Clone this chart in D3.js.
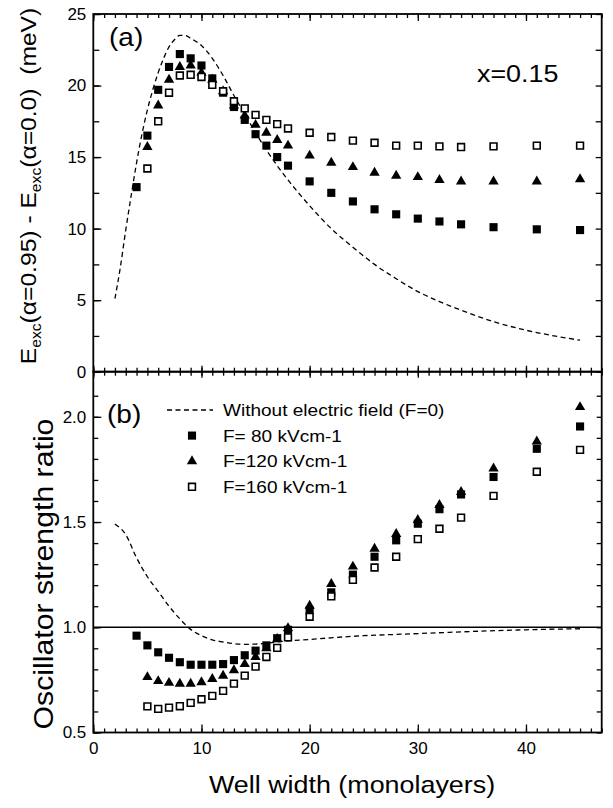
<!DOCTYPE html>
<meta charset="utf-8">
<script src="https://cdn.jsdelivr.net/npm/d3@7"></script>
<style>
body { margin: 0; background: #fff; }
text { font-family: "Liberation Sans", Arial, sans-serif; fill: #000; }
</style>
<body>
<script>
// well widths (monolayers)
var wellFull = [4,5,6,7,8,9,10,11,12,13,14,15,16,17,18,20,22,24,26,28,30,32,34,37,41,45];
var wellFrom5 = wellFull.slice(1);

// (a) energy difference, meV
var enF80  = [12.9,16.5,19.7,21.3,22.2,21.9,21.4,20.5,19.5,18.5,17.6,16.6,15.8,15.0,14.4,13.3,12.5,11.9,11.35,11.0,10.7,10.5,10.3,10.1,9.95,9.9];
var enF120 = [15.7,18.6,20.4,21.3,21.4,20.9,20.4,19.6,18.6,17.9,17.25,16.7,16.2,15.8,15.1,14.6,14.3,13.9,13.7,13.6,13.4,13.3,13.3,13.3,13.45];
var enF160 = [14.2,17.5,19.5,20.7,20.75,20.6,20.05,19.6,18.9,18.4,17.95,17.6,17.3,17.0,16.7,16.4,16.15,16.0,15.8,15.8,15.75,15.7,15.75,15.8,15.8];
var enF0x  = [2,2.5,3,3.5,4,4.5,5,5.5,6,6.5,7,7.5,8,8.5,9,10,11,12,13,14,15,16,17,18,20,22,24,26,28,30,32,34,37,40,43,45];
var enF0   = [5.1,7.3,9.9,12.3,14.6,16.6,18.3,19.7,20.9,21.9,22.7,23.2,23.5,23.5,23.3,22.8,21.9,20.7,19.3,18.0,16.7,15.5,14.4,13.4,11.6,10.0,8.7,7.5,6.5,5.6,4.9,4.3,3.5,2.9,2.45,2.2];

// (b) oscillator strength ratio
var osF80  = [0.96,0.914,0.881,0.855,0.834,0.822,0.822,0.822,0.825,0.844,0.867,0.889,0.914,0.948,0.988,1.08,1.166,1.25,1.335,1.413,1.492,1.561,1.631,1.714,1.848,1.954];
var osF120 = [0.763,0.744,0.736,0.732,0.732,0.739,0.754,0.770,0.796,0.825,0.859,0.90,0.945,0.995,1.102,1.206,1.288,1.373,1.443,1.51,1.581,1.643,1.754,1.883,2.046];
var osF160 = [0.624,0.612,0.618,0.625,0.641,0.658,0.674,0.698,0.732,0.770,0.813,0.859,0.902,0.952,1.05,1.147,1.225,1.284,1.335,1.419,1.468,1.521,1.624,1.739,1.843];
var osF0x  = [2,3,4,5,6,7,8,9,10,11,12,13,14,15,16,17,18,20,22,25,28,31,35,40,45];
var osF0   = [1.49,1.44,1.33,1.24,1.17,1.10,1.04,0.99,0.96,0.94,0.93,0.922,0.919,0.92,0.924,0.93,0.935,0.942,0.95,0.96,0.966,0.972,0.98,0.988,0.993];

var legendLabels = ["Without electric field (F=0)", "F= 80 kVcm-1", "F=120 kVcm-1", "F=160 kVcm-1"];

var W = 613, H = 808;
var SX = 1.12; // text in the scan is a bit wider than Arial

var svg = d3.select("body").append("svg").attr("width", W).attr("height", H);

var x  = d3.scaleLinear().domain([0, 47]).range([93.3, 601.7]);
var yA = d3.scaleLinear().domain([0, 25]).range([371.7, 14]);
var yB = d3.scaleLinear().domain([0.5, 2.0]).range([732.5, 395]);
yB.domain([0.5, yB.invert(371.7)]);

var left = x.range()[0], right = x.range()[1];

function zip(xs, ys) { return xs.map(function(d, i) { return [d, ys[i]]; }); }

function txt(g, px, py, str, size, rot, anchor) {
  return g.append("text")
    .attr("transform", "translate(" + px + "," + py + ")" + (rot ? " rotate(-90)" : "") + " scale(" + SX + ",1)")
    .attr("text-anchor", anchor || "start")
    .style("font-size", size + "px")
    .text(str);
}

// ticks helper: draws ticks with a d3 axis, no domain line
function ticks(axisFn, scale, vals, size, tx, ty, fmt, pad) {
  var g = svg.append("g")
    .attr("transform", "translate(" + tx + "," + ty + ")")
    .call(axisFn(scale).tickValues(vals).tickSize(size).tickPadding(pad || 3).tickFormat(fmt || ""));
  g.select(".domain").remove();
  g.selectAll(".tick line").attr("stroke", "#000").attr("stroke-width", 1.3);
  g.selectAll(".tick text").style("font-size", "17px").style("font-family", "'Liberation Sans', Arial, sans-serif");
  return g;
}

var xMinor = d3.range(0, 48);
var xMajor = [0, 10, 20, 30, 40];

// ---- panel frames
[[yA, 14, 371.7], [yB, 371.7, 732.5]].forEach(function(p) {
  svg.append("rect").attr("x", left).attr("y", p[1]).attr("width", right - left).attr("height", p[2] - p[1])
    .attr("fill", "none").attr("stroke", "#000").attr("stroke-width", 1.8);
});

// top edge (ticks down)
ticks(d3.axisTop, x, xMinor, -4, 0, 14);
ticks(d3.axisTop, x, xMajor, -7, 0, 14);
// shared middle edge (ticks both ways)
[4, -4].forEach(function(s) { ticks(d3.axisBottom, x, xMinor, s, 0, 371.7); });
[6, -6].forEach(function(s) { ticks(d3.axisBottom, x, xMajor, s, 0, 371.7); });
// bottom edge with labels
ticks(d3.axisBottom, x, xMinor, -4, 0, 732.5);
ticks(d3.axisBottom, x, xMajor, -8, 0, 732.5, d3.format("d"), 9);

// panel (a) y ticks
var aMinor = d3.range(0, 25.01, 2.5), aMajor = d3.range(0, 25.01, 5);
ticks(d3.axisLeft, yA, aMinor, -6, left, 0);
ticks(d3.axisLeft, yA, aMajor, -8, left, 0, d3.format("d"), 7);
ticks(d3.axisRight, yA, aMinor, -6, right, 0);

// panel (b) y ticks
var bMinor = d3.range(5, 22).map(function(d) { return d / 10; }), bMajor = [0.5, 1.0, 1.5, 2.0];
ticks(d3.axisLeft, yB, bMinor, -5, left, 0);
ticks(d3.axisLeft, yB, bMajor, -8, left, 0, d3.format(".1f"), 7);
ticks(d3.axisRight, yB, bMinor, -5, right, 0);

// reference line at ratio 1
svg.append("line").attr("x1", left).attr("x2", right).attr("y1", yB(1)).attr("y2", yB(1))
  .attr("stroke", "#000").attr("stroke-width", 1.3);

// ---- dashed model curves
function dashed(data, y) {
  svg.append("path").datum(data)
    .attr("d", d3.line().x(function(d) { return x(d[0]); }).y(function(d) { return y(d[1]); }).curve(d3.curveMonotoneX))
    .attr("fill", "none").attr("stroke", "#000").attr("stroke-width", 1.3).attr("stroke-dasharray", "5,3.5");
}
dashed(zip(enF0x, enF0), yA);
dashed(zip(osF0x, osF0), yB);

// ---- markers
var sqSym = d3.symbol().type(d3.symbolSquare).size(66);
var triSym = d3.symbol().type(d3.symbolTriangle).size(46);
var openSym = d3.symbol().type(d3.symbolSquare).size(46);

function marks(data, y, kind) {
  var sym = kind === "tri" ? triSym : kind === "sq" ? sqSym : openSym;
  svg.append("g").selectAll("path").data(data).enter().append("path")
    .attr("transform", function(d) { return "translate(" + x(d[0]) + "," + y(d[1]) + ")"; })
    .attr("d", sym)
    .attr("fill", kind === "open" ? "#fff" : "#000")
    .attr("stroke", "#000").attr("stroke-width", kind === "open" ? 1.6 : 0);
}
marks(zip(wellFrom5, enF120), yA, "tri");
marks(zip(wellFull, enF80), yA, "sq");
marks(zip(wellFrom5, enF160), yA, "open");
marks(zip(wellFrom5, osF120), yB, "tri");
marks(zip(wellFull, osF80), yB, "sq");
marks(zip(wellFrom5, osF160), yB, "open");

// ---- legend in (b)
var lg = svg.append("g");
legendLabels.forEach(function(lab, i) {
  var cy = 410 + i * 25.6;
  if (i === 0) {
    lg.append("line").attr("x1", 167).attr("x2", 213).attr("y1", cy).attr("y2", cy)
      .attr("stroke", "#000").attr("stroke-width", 1.3).attr("stroke-dasharray", "5,3.5");
  } else {
    lg.append("path").attr("transform", "translate(192," + cy + ")")
      .attr("d", [sqSym, triSym, openSym][i - 1])
      .attr("fill", i === 3 ? "#fff" : "#000").attr("stroke", "#000").attr("stroke-width", i === 3 ? 1.6 : 0);
  }
  txt(lg, 223, cy + 6, lab, 17);
});

// ---- labels
txt(svg, 109, 46, "(a)", 25);
txt(svg, 107, 423, "(b)", 25);
txt(svg, 477, 82, "x=0.15", 24);

txt(svg, 352, 793, "Well width (monolayers)", 24, false, "middle");
txt(svg, 53, 574, "Oscillator strength ratio", 27, true, "middle");

var yt = svg.append("text")
  .attr("transform", "translate(36,186) rotate(-90) scale(" + SX + ",1)")
  .attr("text-anchor", "middle")
  .style("font-size", "22px");
yt.append("tspan").text("E");
yt.append("tspan").attr("dy", 5).style("font-size", "14px").text("exc");
yt.append("tspan").attr("dy", -5).text("(\u03b1=0.95) - E");
yt.append("tspan").attr("dy", 5).style("font-size", "14px").text("exc");
yt.append("tspan").attr("dy", -5).text("(\u03b1=0.0)\u00a0\u00a0(meV)");
</script>
</body>
